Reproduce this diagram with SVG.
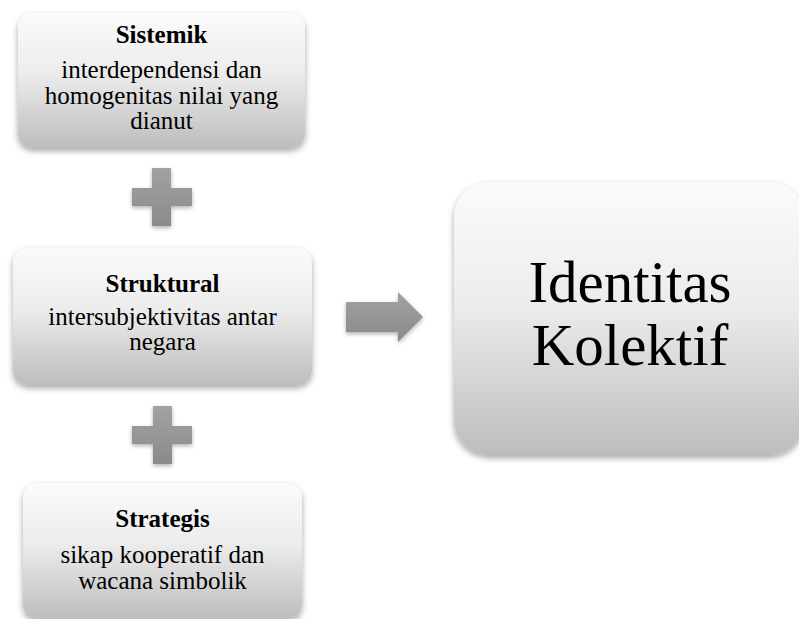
<svg xmlns="http://www.w3.org/2000/svg" width="799" height="619" viewBox="0 0 799 619">
<defs>
<linearGradient id="boxGrad" x1="0" y1="0" x2="0" y2="1">
<stop offset="0" stop-color="#fbfbfb"/>
<stop offset="0.45" stop-color="#ececec"/>
<stop offset="1" stop-color="#bdbdbd"/>
</linearGradient>
<linearGradient id="symGrad" x1="0" y1="0" x2="0" y2="1">
<stop offset="0" stop-color="#a2a2a2"/>
<stop offset="1" stop-color="#8a8a8a"/>
</linearGradient>
<filter id="shadow" x="-10%" y="-10%" width="120%" height="125%">
<feDropShadow dx="0" dy="3" stdDeviation="3" flood-color="#000" flood-opacity="0.35"/>
</filter>
<filter id="symShadow" x="-20%" y="-20%" width="140%" height="150%">
<feDropShadow dx="0" dy="2" stdDeviation="2" flood-color="#000" flood-opacity="0.3"/>
</filter>
</defs>
<style>
.box{fill:url(#boxGrad);filter:url(#shadow)}
.sym{fill:url(#symGrad);filter:url(#symShadow)}
.t{font-family:"Liberation Serif","Times New Roman",serif;font-size:25px;fill:#000;text-anchor:middle}
.b{font-weight:bold}
.big{font-family:"Liberation Serif","Times New Roman",serif;font-size:59px;fill:#000;text-anchor:middle}
</style>
<rect width="799" height="619" fill="#ffffff"/>
<g id="sistemik">
<rect class="box" x="18" y="13" width="287" height="135" rx="15"/>
<text class="t b" x="161.5" y="43">Sistemik</text>
<text class="t" x="161.5" y="78">interdependensi dan</text>
<text class="t" x="161.5" y="103.5">homogenitas nilai yang</text>
<text class="t" x="161.5" y="129">dianut</text>
</g>
<g id="struktural">
<rect class="box" x="13" y="248" width="299" height="137" rx="15"/>
<text class="t b" x="162.5" y="292">Struktural</text>
<text class="t" x="162.5" y="325">intersubjektivitas antar</text>
<text class="t" x="162.5" y="350">negara</text>
</g>
<g id="strategis">
<rect class="box" x="23" y="483" width="279" height="136" rx="15"/>
<text class="t b" x="162.5" y="527">Strategis</text>
<text class="t" x="162.5" y="563">sikap kooperatif dan</text>
<text class="t" x="162.5" y="589">wacana simbolik</text>
</g>
<g id="identitas">
<rect class="box" x="454" y="182" width="350" height="273" rx="35"/>
<text class="big" x="630" y="302">Identitas</text>
<text class="big" x="630" y="365">Kolektif</text>
</g>
<g id="connectors">
<path class="sym" d="M152 168H171V188H192V206H171V226H152V206H132V188H152Z"/>
<path class="sym" d="M153 406H172V426H192V444H172V464H153V444H132V426H153Z"/>
<path class="sym" d="M346 302H398V292L423 317L398 342V332H346Z"/>
</g>
</svg>
